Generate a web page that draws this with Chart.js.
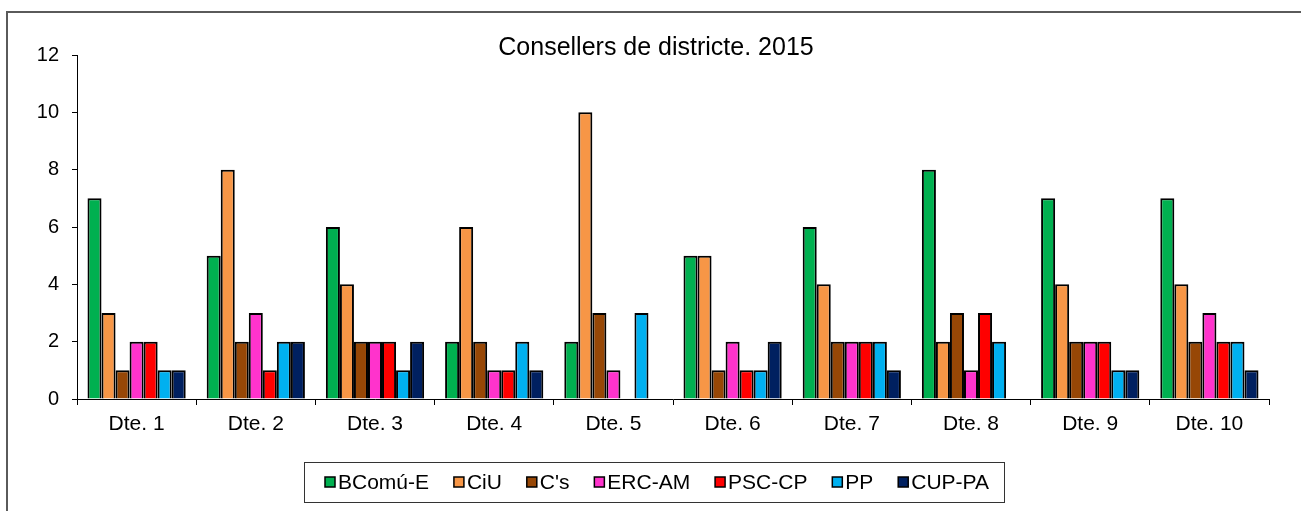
<!DOCTYPE html>
<html lang="ca">
<head>
    <meta charset="UTF-8">
    <title>Consellers de districte. 2015</title>
    <script src="https://cdn.jsdelivr.net/npm/chart.js"></script>
    <style>
        body {
            margin: 0;
            background-color: #ffffff;
            overflow: hidden;
        }
        #marc {
            position: absolute;
            left: 6px;
            top: 11px;
            width: 1400px;
            height: 600px;
            border-left: 2px solid #5a5a5a;
            border-top: 2px solid #5a5a5a;
        }
        #wrap {
            position: absolute;
            left: 0;
            top: 0;
            width: 1301px;
            height: 511px;
        }
    </style>
</head>
<body>
    <div id="marc"></div>
    <div id="wrap"><canvas id="grafic" width="1301" height="511"></canvas></div>

    <script>
        // dades
        const districtes = ["Dte. 1", "Dte. 2", "Dte. 3", "Dte. 4", "Dte. 5", "Dte. 6", "Dte. 7", "Dte. 8", "Dte. 9", "Dte. 10"];
        const bcomu = [7, 5, 6, 2, 2, 5, 6, 8, 7, 7];
        const ciu   = [3, 8, 4, 6, 10, 5, 4, 2, 4, 4];
        const cs    = [1, 2, 2, 2, 3, 1, 2, 3, 2, 2];
        const erc   = [2, 3, 2, 1, 1, 2, 2, 1, 2, 3];
        const psc   = [2, 1, 2, 1, 0, 1, 2, 3, 2, 2];
        const pp    = [1, 2, 1, 2, 3, 1, 2, 2, 1, 2];
        const cup   = [1, 2, 2, 1, 0, 2, 1, 0, 1, 1];
        const partits = ["BComú-E", "CiU", "C's", "ERC-AM", "PSC-CP", "PP", "CUP-PA"];
        const colors  = ["#00b050", "#f79646", "#974706", "#ff33cc", "#ff0000", "#00b0f0", "#002060"];
        const titol = "Consellers de districte. 2015";

        const FONT = "'Liberation Sans', Arial, sans-serif";
        Chart.defaults.font.family = FONT;
        Chart.defaults.color = "#000000";

        const series = [bcomu, ciu, cs, erc, psc, pp, cup];

        // titol i llegenda dibuixats a ma
        const extres = {
            id: "extres",
            afterDraw(chart) {
                const ctx = chart.ctx;
                ctx.save();
                ctx.fillStyle = "#000";
                ctx.font = "25px " + FONT;
                ctx.textAlign = "center";
                ctx.textBaseline = "middle";
                ctx.fillText(titol, 656, 48);

                // llegenda
                ctx.font = "21px " + FONT;
                ctx.textAlign = "left";
                const caixa = { left: 304, right: 1004, top: 462, bottom: 502 };
                const quadre = 10, gapText = 3;
                let total = 0;
                chart.data.datasets.forEach(ds => { total += quadre + gapText + ctx.measureText(ds.label).width; });
                const x0 = caixa.left + 21, x1 = caixa.right - 15;
                const gap = (x1 - x0 - total) / (chart.data.datasets.length - 1);
                const yc = (caixa.top + caixa.bottom) / 2;
                ctx.strokeStyle = "#333";
                ctx.lineWidth = 1;
                ctx.strokeRect(caixa.left + 0.5, caixa.top + 0.5, caixa.right - caixa.left, caixa.bottom - caixa.top);
                let x = x0;
                chart.data.datasets.forEach(ds => {
                    ctx.fillStyle = ds.backgroundColor;
                    ctx.fillRect(x, yc - 5, quadre, quadre);
                    ctx.strokeStyle = "#000";
                    ctx.lineWidth = 1.5;
                    ctx.strokeRect(x, yc - 5, quadre, quadre);
                    ctx.fillStyle = "#000";
                    ctx.fillText(ds.label, x + quadre + gapText, yc + 1);
                    x += quadre + gapText + ctx.measureText(ds.label).width + gap;
                });
                ctx.restore();
            }
        };

        new Chart(document.getElementById("grafic").getContext("2d"), {
            type: "bar",
            data: {
                labels: districtes,
                datasets: partits.map((p, i) => ({
                    label: p,
                    data: series[i],
                    backgroundColor: colors[i],
                    borderColor: "#000000",
                    borderWidth: 2,
                    borderSkipped: "start",
                    categoryPercentage: 0.824,
                    barPercentage: 1.0
                }))
            },
            options: {
                responsive: false,
                animation: false,
                layout: { padding: { left: 20, right: 32, top: 55, bottom: 62 } },
                plugins: {
                    legend: { display: false },
                    title: { display: false },
                    tooltip: { enabled: false }
                },
                scales: {
                    x: {
                        afterFit: s => { s.height = 50; },
                        grid: { offset: true, drawOnChartArea: false, drawTicks: true, tickLength: 6, color: "#000" },
                        border: { color: "#000", width: 1 },
                        ticks: { font: { size: 21 }, color: "#000", padding: 7 }
                    },
                    y: {
                        min: 0,
                        max: 12,
                        afterFit: s => { s.width = 57; },
                        grid: { drawOnChartArea: false, drawTicks: true, tickLength: 5, color: "#000" },
                        border: { color: "#000", width: 1 },
                        ticks: { stepSize: 2, font: { size: 20 }, color: "#000", padding: 13 }
                    }
                }
            },
            plugins: [extres]
        });
    </script>
</body>
</html>
